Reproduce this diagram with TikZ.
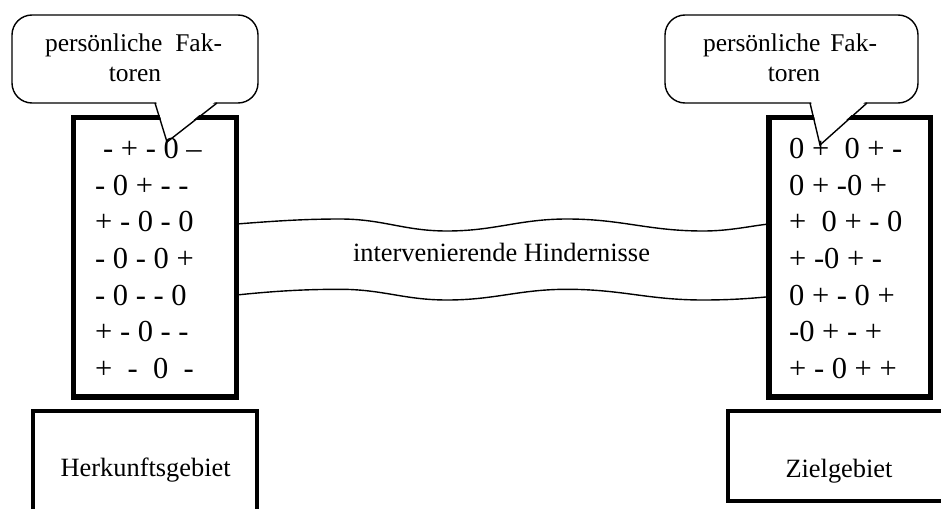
\documentclass[tikz,border=0pt]{standalone}
\usepackage{fontspec}
\setmainfont{Liberation Serif}
\begin{document}
\begin{tikzpicture}[x=1pt,y=-1pt,
  colbox/.style={draw=black, line width=5.2pt, inner sep=0pt, outer sep=0pt},
  areabox/.style={draw=black, line width=4.5pt, inner sep=0pt, outer sep=0pt},
  thinline/.style={draw=black, line width=1.4pt},
  bubbletext/.style={inner sep=0pt, anchor=base, font=\fontsize{25.5}{30}\selectfont},
  maintext/.style={inner sep=0pt, anchor=base, font=\fontsize{26.4}{30}\selectfont},
  symtext/.style={inner sep=0pt, anchor=base west, font=\fontsize{30.5}{36}\selectfont},
]
\useasboundingbox (0,0) rectangle (941,508);
\fill[white] (0,0) rectangle (941,508);

% columns
\node[colbox, minimum width=163.4pt, minimum height=279.7pt] (colL) at (155,257.15) {};
\node[colbox, minimum width=161.7pt, minimum height=279.7pt] (colR) at (849.85,257.15) {};

% lower area boxes
\node[areabox, minimum width=224pt, minimum height=140pt] (boxL) at (145,481) {};
\node[areabox, minimum width=232pt, minimum height=90pt] (boxR) at (844,456) {};

% wavy connectors
\coordinate (w1a) at (236.7,224);
\coordinate (w1b) at (769,224);
\coordinate (w2a) at (236.7,295);
\coordinate (w2b) at (769,296.7);
\draw[thinline] (w1a) .. controls (275,221) and (305,219) .. (340,219)
  .. controls (383,219) and (404,231) .. (447,231)
  .. controls (495,231) and (519,219) .. (567,219)
  .. controls (622,219) and (648,231) .. (703,231)
  .. controls (730,231) and (750,226) .. (w1b);
\draw[thinline] (w2a) .. controls (275,291) and (305,289.3) .. (340,289.3)
  .. controls (383,289.3) and (404,300) .. (447,300)
  .. controls (495,300) and (519,289.3) .. (567,289.3)
  .. controls (622,289.3) and (648,300) .. (703,300)
  .. controls (730,300) and (750,298.5) .. (w2b);

% callout bubbles
\draw[thinline, fill=white, rounded corners=20pt] (12,15) rectangle (258,103);
\fill[white] (156,101) -- (167,142) -- (216,101) -- cycle;
\draw[thinline, line join=miter] (155,103) -- (167,142) -- (217,103);

\draw[thinline, fill=white, rounded corners=20pt] (665,15) rectangle (918,103);
\fill[white] (811,101) -- (820,145) -- (866,101) -- cycle;
\draw[thinline, line join=miter] (810,103) -- (820,145) -- (867,103);

% bubble texts
\node[bubbletext] (pfL1) at (133.5,52) {\makebox[177pt][s]{persönliche Fak-}};
\node[bubbletext] (pfL2) at (135,82) {toren};
\node[bubbletext] (pfR1) at (790,52) {\makebox[174pt][s]{persönliche Fak-}};
\node[bubbletext] (pfR2) at (794,82) {toren};

% left column symbols
\node[symtext] (l1) at (103,158.5) {- + - 0 –};
\node[symtext] (l2) at (95,195.2) {- 0 + - -};
\node[symtext] (l3) at (95,231.8) {+ - 0 - 0};
\node[symtext] (l4) at (95,268.5) {- 0 - 0 +};
\node[symtext] (l5) at (95,305.2) {- 0 - - 0};
\node[symtext] (l6) at (95,341.8) {+ - 0 - -};
\node[symtext] (l7) at (95,378.5) {+~~-~~0~~-};

% right column symbols
\node[symtext] (r1) at (789,158.5) {0 +~~0 + -};
\node[symtext] (r2) at (789,195.2) {0 + -0 +};
\node[symtext] (r3) at (789,231.8) {+~~0 + - 0};
\node[symtext] (r4) at (789,268.5) {+ -0 + -};
\node[symtext] (r5) at (789,305.2) {0 + - 0 +};
\node[symtext] (r6) at (789,341.8) {-0 + - +};
\node[symtext] (r7) at (789,378.5) {+ - 0 + +};

% main labels
\node[maintext] (hind) at (501.5,261.7) {intervenierende Hindernisse};
\node[maintext] (herk) at (145.7,476.7) {Herkunftsgebiet};
\node[maintext] (ziel) at (839,477) {Zielgebiet};
\end{tikzpicture}
\end{document}
